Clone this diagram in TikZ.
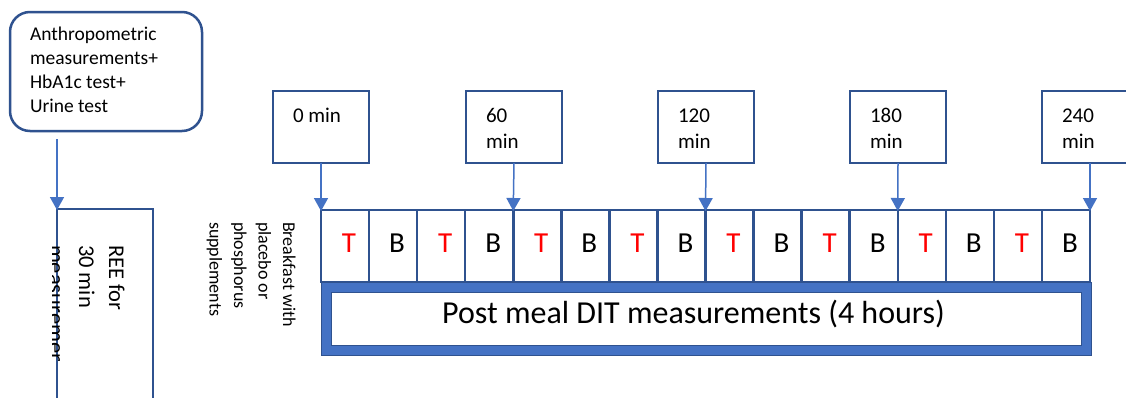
\documentclass[tikz,border=0pt]{standalone}
\usepackage{fontspec}
\setmainfont{Carlito}
\usetikzlibrary{arrows.meta}
\definecolor{dkblue}{HTML}{2F528F}
\definecolor{accent}{HTML}{4472C4}
\definecolor{tred}{HTML}{FF0000}
\begin{document}
\begin{tikzpicture}[x=1pt,y=-1pt,
  box/.style={draw=dkblue, line width=2.5pt, fill=white, inner sep=0pt, outer sep=0pt},
  arr/.style={draw=accent, line width=1.5pt, -{Triangle[width=14pt,length=13pt]}, shorten >=-1pt},
  lbl/.style={inner sep=0pt, outer sep=0pt, text=black},
  tfont/.style={lbl, font=\fontsize{21}{25}\selectfont},
  cellfont/.style={lbl, font=\fontsize{29}{33}\selectfont},
  rfont/.style={lbl, rotate=-90, font=\fontsize{18}{22}\selectfont},
  reefont/.style={lbl, rotate=-90, font=\fontsize{22.5}{26}\selectfont}]
\clip (0,0) rectangle (1126,397);
\fill[white] (0,0) rectangle (1126,397);

% pre-test box
\node[box, rounded corners=20pt, minimum width=192pt, minimum height=119pt, anchor=north west] (pre) at (10,12) {};
\node[lbl, anchor=base west, font=\fontsize{19.5}{24}\selectfont] (p1) at (30,40) {Anthropometric};
\node[lbl, anchor=base west, font=\fontsize{19.5}{24}\selectfont] (p2) at (30,64) {measurements+};
\node[lbl, anchor=base west, font=\fontsize{19.5}{24}\selectfont] (p3) at (30,88) {HbA1c test+};
\node[lbl, anchor=base west, font=\fontsize{19.5}{24}\selectfont] (p4) at (30,112) {Urine test};

% REE box
\node[box, minimum width=96pt, minimum height=230pt, anchor=north west] (ree) at (57,209) {};
\coordinate (a0) at (57,139);
\draw[arr] (a0) -- (ree.north west);
\node[reefont, anchor=base west] (r1) at (109,245) {REE for};
\node[reefont, anchor=base west] (r2) at (79,245) {30 min};
\begin{scope}
  \clip (52,230) rectangle (70,360);
  \node[reefont, anchor=base west] (r3) at (49,245) {measurements};
\end{scope}

% breakfast text
\node[rfont, anchor=base west] (b1) at (283,222) {Breakfast with};
\node[rfont, anchor=base west] (b2) at (258.5,222) {placebo or};
\node[rfont, anchor=base west] (b3) at (234,222) {phosphorus};
\node[rfont, anchor=base west] (b4) at (209.5,222) {supplements};

% cells
\foreach \i in {0,...,15} {
  \pgfmathsetmacro{\xl}{321+\i*48.0625}
  \node[box, minimum width=48.0625pt, minimum height=72pt, anchor=north west] (c\i) at (\xl,210) {};
  \pgfmathsetmacro{\xc}{\xl+24+4}
  \ifodd\i
    \node[cellfont, anchor=base] (l\i) at (\xc,252) {B};
  \else
    \node[cellfont, anchor=base, text=tred] (l\i) at (\xc,252) {T};
  \fi
}

% time boxes
\node[box, minimum width=96pt, minimum height=72pt, anchor=north west] (t0) at (273,91) {};
\node[box, minimum width=96pt, minimum height=72pt, anchor=north west] (t1) at (466,91) {};
\node[box, minimum width=96pt, minimum height=72pt, anchor=north west] (t2) at (658,91) {};
\node[box, minimum width=96pt, minimum height=72pt, anchor=north west] (t3) at (850,91) {};
\node[box, minimum width=96pt, minimum height=72pt, anchor=north west] (t4) at (1042,91) {};
\node[tfont, anchor=base west] (t0a) at (293,122.5) {0 min};
\node[tfont, anchor=base west] (t1a) at (486,122.5) {60};
\node[tfont, anchor=base west] (t1b) at (486,148) {min};
\node[tfont, anchor=base west] (t2a) at (678,122.5) {120};
\node[tfont, anchor=base west] (t2b) at (678,148) {min};
\node[tfont, anchor=base west] (t3a) at (870,122.5) {180};
\node[tfont, anchor=base west] (t3b) at (870,148) {min};
\node[tfont, anchor=base west] (t4a) at (1062,122.5) {240};
\node[tfont, anchor=base west] (t4b) at (1062,148) {min};

\draw[arr] (t0.south) -- (c0.north west);
\draw[arr] (t1.south) -- (c4.north west);
\draw[arr] (t2.south) -- (c8.north west);
\draw[arr] (t3.south) -- (c12.north west);
\draw[arr] (t4.south) -- (c15.north east);

% DIT box
\node[draw=dkblue, fill=accent, line width=1.2pt, minimum width=770pt, minimum height=73pt, anchor=north west, inner sep=0pt] (ditout) at (321,282) {};
\node[draw=dkblue, fill=white, line width=1.2pt, minimum width=750pt, minimum height=53pt, anchor=north west, inner sep=0pt] (ditin) at (331,292) {};
\node[lbl, anchor=base, font=\fontsize{32}{36}\selectfont] (dit) at (693.5,323) {Post meal DIT measurements (4 hours)};
\end{tikzpicture}
\end{document}
